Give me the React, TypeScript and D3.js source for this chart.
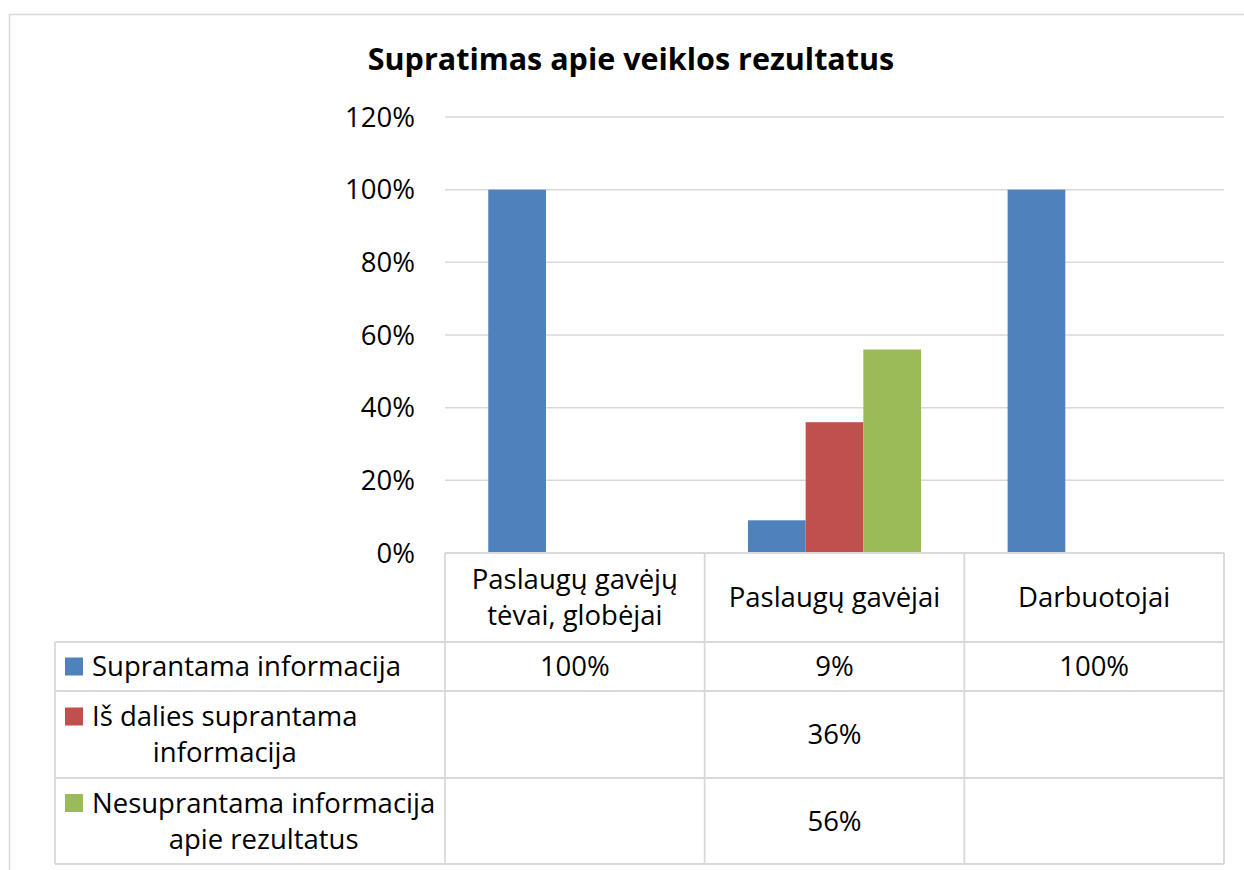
import React, { useEffect, useRef } from "react";
import * as d3 from "d3";

const title = "Supratimas apie veiklos rezultatus";
const categories = ["Paslaugų gavėjų tėvai, globėjai", "Paslaugų gavėjai", "Darbuotojai"];
const categoryLines = [["Paslaugų gavėjų", "tėvai, globėjai"], ["Paslaugų gavėjai"], ["Darbuotojai"]];
const seriesNames = ["Suprantama informacija", "Iš dalies suprantama informacija", "Nesuprantama informacija apie rezultatus"];
const seriesLines = [["Suprantama informacija"], ["Iš dalies suprantama", "informacija"], ["Nesuprantama informacija", "apie rezultatus"]];
const suprantama = [100, 9, 100];
const isDalies = [null, 36, null];
const nesuprantama = [null, 56, null];
const yTicks = [0, 20, 40, 60, 80, 100, 120];
const colors = ["#4f81bd", "#c0504d", "#9bbb59"];

const W = 1244, H = 870;
const FONT = "'Open Sans', sans-serif";
const GRID = "#d9d9d9";
const FS = 27.5;

export default function App() {
  const ref = useRef<SVGSVGElement>(null);

  useEffect(() => {
    document.body.style.margin = "0";
    const svg = d3.select(ref.current);
    svg.selectAll("*").remove();

    const series = [suprantama, isDalies, nesuprantama];
    const left = 445, right = 1224, top = 117, bottom = 553;
    const legendLeft = 55;
    const rows = [553, 642, 691, 778, 864];

    const x = d3.scaleBand().domain(categories).range([left, right]).padding(0);
    const x1 = d3.scaleBand().domain(seriesNames).range([0, x.bandwidth()]).paddingInner(0).paddingOuter(0.75);
    const y = d3.scaleLinear().domain([0, 120]).range([bottom, top]);

    // outer border
    svg.append("rect").attr("x", 9.5).attr("y", 14.5).attr("width", W).attr("height", H)
      .attr("fill", "white").attr("stroke", GRID).attr("stroke-width", 1.5);

    // title
    svg.append("text").attr("x", 631).attr("y", 70).attr("text-anchor", "middle")
      .attr("font-family", FONT).attr("font-weight", "bold").attr("font-size", 30.5).text(title);

    // gridlines
    svg.append("g").selectAll("line").data(yTicks.filter(d => d > 0)).join("line")
      .attr("x1", left).attr("x2", right).attr("y1", d => y(d)).attr("y2", d => y(d))
      .attr("stroke", GRID).attr("stroke-width", 1.5);

    // y labels
    svg.append("g").selectAll("text").data(yTicks).join("text")
      .attr("x", 415).attr("y", d => y(d)).attr("dy", "0.35em").attr("text-anchor", "end")
      .attr("font-family", FONT).attr("font-size", FS).text(d => d + "%");

    // bars
    series.forEach((vals, si) => {
      svg.append("g").selectAll("rect").data(vals.map((v, i) => ({ v, c: categories[i] })).filter(d => d.v != null)).join("rect")
        .attr("x", d => (x(d.c) as number) + (x1(seriesNames[si]) as number))
        .attr("y", d => y(d.v as number))
        .attr("width", x1.bandwidth())
        .attr("height", d => bottom - y(d.v as number))
        .attr("fill", colors[si]);
    });

    // data table lines
    const tbl = svg.append("g").attr("stroke", GRID).attr("stroke-width", 1.8);
    tbl.append("line").attr("x1", left).attr("x2", right).attr("y1", rows[0]).attr("y2", rows[0]);
    rows.slice(1).forEach(r => {
      tbl.append("line").attr("x1", legendLeft).attr("x2", right).attr("y1", r).attr("y2", r);
    });
    tbl.append("line").attr("x1", legendLeft).attr("x2", legendLeft).attr("y1", rows[1]).attr("y2", rows[4]);
    [...categories.map(c => x(c) as number), right].forEach(xx => {
      tbl.append("line").attr("x1", xx).attr("x2", xx).attr("y1", rows[0]).attr("y2", rows[4]);
    });

    const lh = 36;
    // category headers
    categoryLines.forEach((lines, i) => {
      const cx = (x(categories[i]) as number) + x.bandwidth() / 2;
      const cy = (rows[0] + rows[1]) / 2;
      lines.forEach((l, j) => {
        svg.append("text").attr("x", cx).attr("y", cy + (j - (lines.length - 1) / 2) * lh)
          .attr("dy", "0.35em").attr("text-anchor", "middle")
          .attr("font-family", FONT).attr("font-size", FS).text(l);
      });
    });

    // series rows: legend + values
    series.forEach((vals, si) => {
      const r0 = rows[si + 1], r1 = rows[si + 2];
      const cy = (r0 + r1) / 2;
      const lines = seriesLines[si];
      const firstY = cy - (lines.length - 1) / 2 * lh;
      svg.append("rect").attr("x", 65).attr("y", firstY - 9).attr("width", 18).attr("height", 18).attr("fill", colors[si]);
      const texts = lines.map((l, j) => svg.append("text").attr("y", firstY + j * lh).attr("dy", "0.35em")
        .attr("text-anchor", "middle").attr("font-family", FONT).attr("font-size", FS).text(l));
      const widths = texts.map(t => (t.node() as SVGTextElement).getComputedTextLength());
      const blockW = d3.max(widths) as number;
      texts.forEach(t => t.attr("x", 92 + blockW / 2));

      vals.forEach((v, i) => {
        if (v == null) return;
        svg.append("text").attr("x", (x(categories[i]) as number) + x.bandwidth() / 2).attr("y", cy)
          .attr("dy", "0.35em").attr("text-anchor", "middle")
          .attr("font-family", FONT).attr("font-size", FS).text(v + "%");
      });
    });
  }, []);

  return <svg ref={ref} width={W} height={H} style={{ display: "block" }} />;
}
